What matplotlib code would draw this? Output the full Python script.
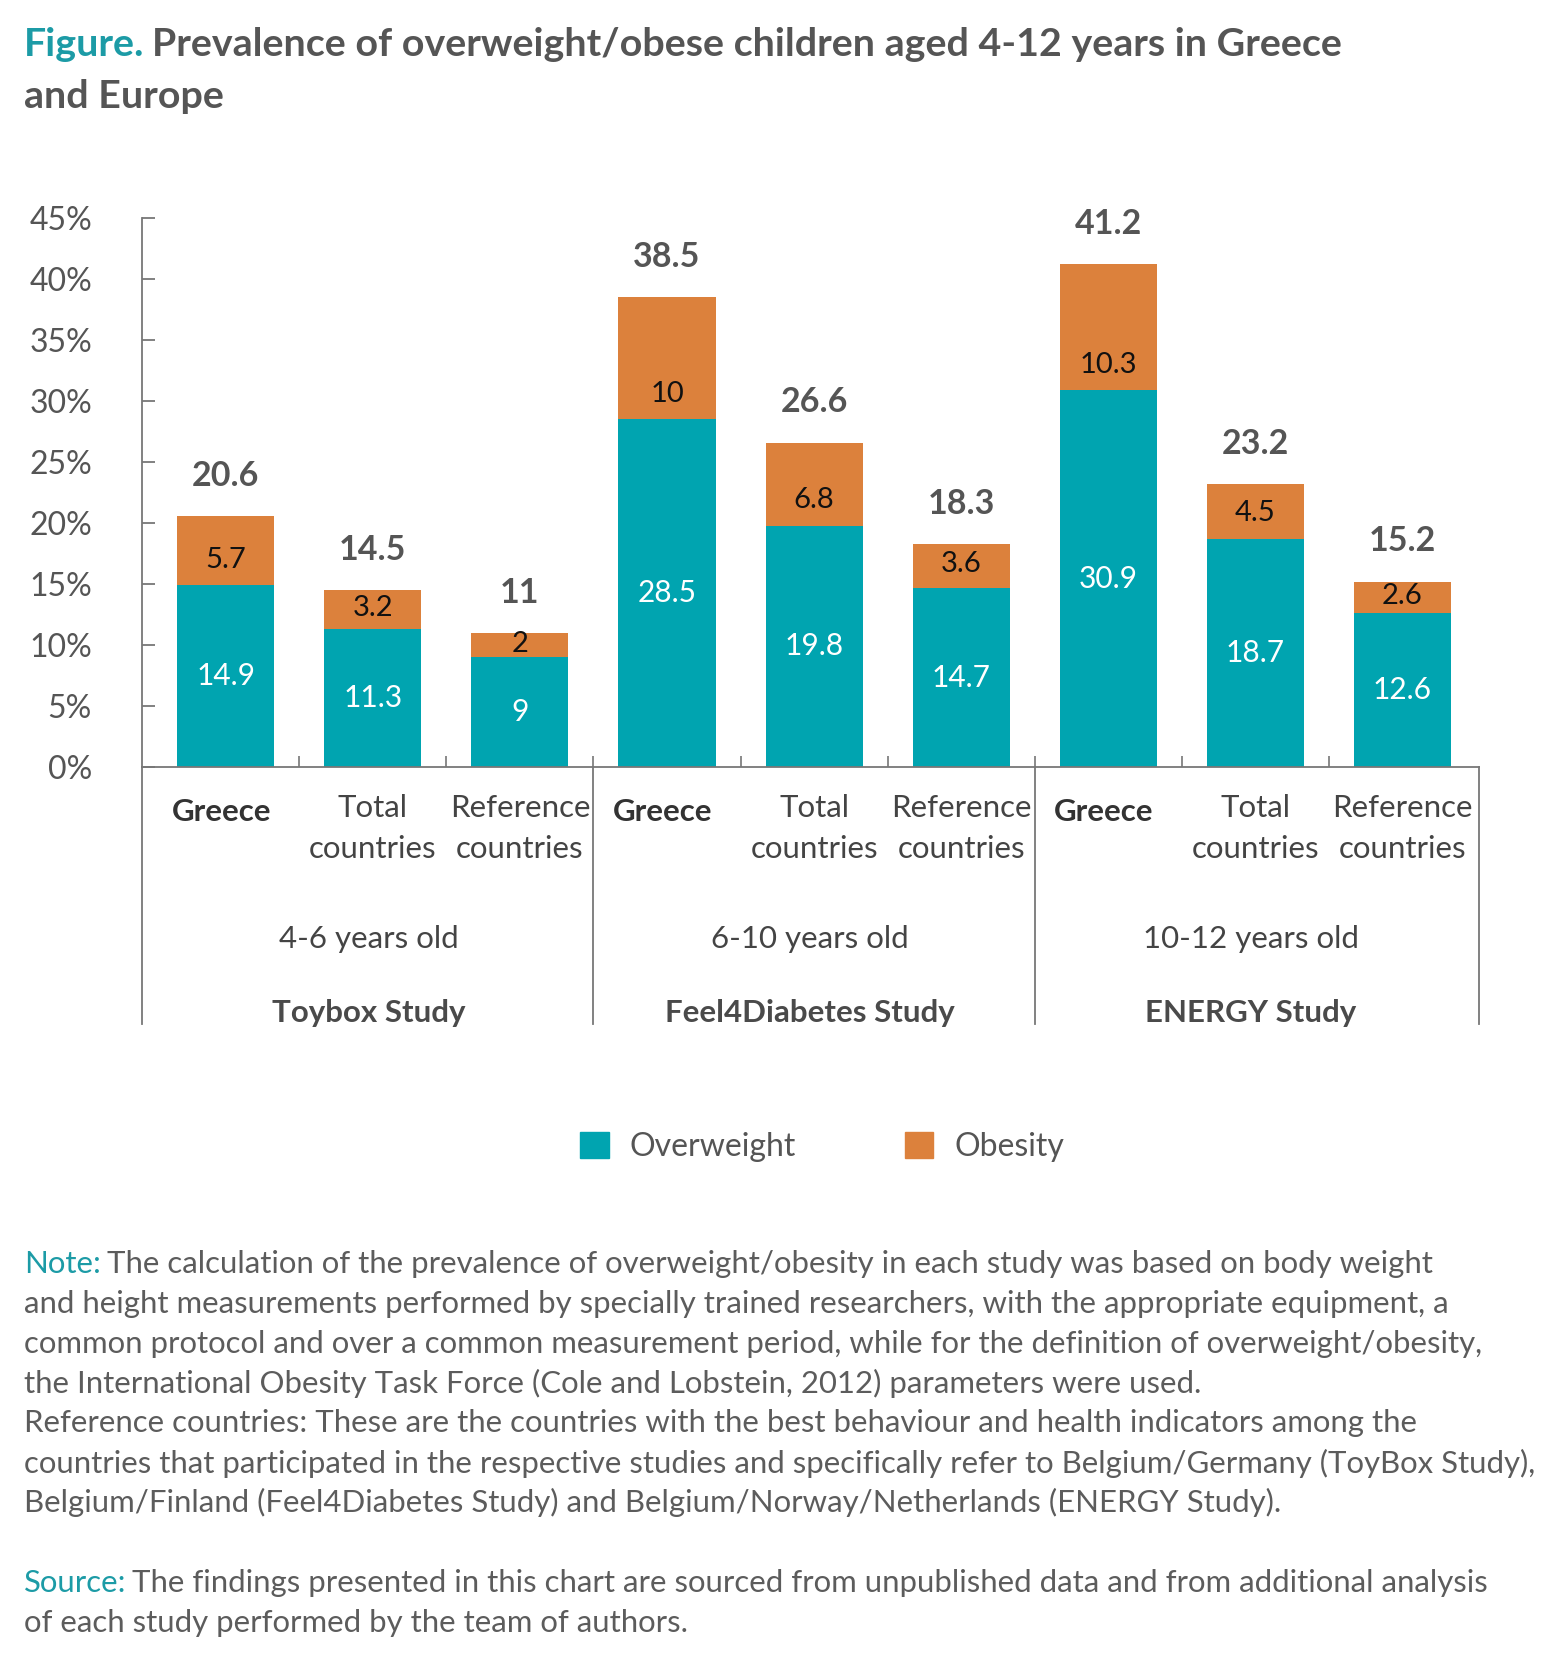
import matplotlib

matplotlib.use("Agg")
import matplotlib.pyplot as plt
import matplotlib.transforms as mtransforms
from matplotlib.patches import Patch

plt.rcParams["font.family"] = ["Lato", "DejaVu Sans"]

# data
categories = ["Greece", "Total\ncountries", "Reference\ncountries"] * 3
overweight = [14.9, 11.3, 9, 28.5, 19.8, 14.7, 30.9, 18.7, 12.6]
obesity = [5.7, 3.2, 2, 10, 6.8, 3.6, 10.3, 4.5, 2.6]
totals = [20.6, 14.5, 11, 38.5, 26.6, 18.3, 41.2, 23.2, 15.2]
age_groups = ["4-6 years old", "6-10 years old", "10-12 years old"]
studies = ["Toybox Study", "Feel4Diabetes Study", "ENERGY Study"]
y_ticks = [0, 5, 10, 15, 20, 25, 30, 35, 40, 45]

TEAL = "#00A4B0"
ORANGE = "#DC813C"
GREY = "#555555"
TEXT = "#5c5c5c"

fig = plt.figure(figsize=(15.6, 16.66), dpi=100)
ax = fig.add_axes([0.091, 0.5395, 0.857, 0.3296])

x = list(range(len(categories)))
ax.bar(x, overweight, width=0.66, color=TEAL, label="Overweight")
ax.bar(x, obesity, width=0.66, bottom=overweight, color=ORANGE, label="Obesity")

for i in x:
    ax.text(i, overweight[i] / 2, f"{overweight[i]:g}", ha="center", va="center",
            color="white", fontsize=21.5)
    # obesity labels sit just above the teal segment, not in the middle
    ax.text(i, overweight[i] + min(2.1, obesity[i] * 0.55), f"{obesity[i]:g}",
            ha="center", va="center", color="#111111", fontsize=21)
    ax.annotate(f"{totals[i]:g}", (i, overweight[i] + obesity[i]), xytext=(0, 29),
                textcoords="offset points", ha="center", va="center",
                color=GREY, fontsize=24.5, fontweight="bold")

ax.set_xlim(-0.57, 8.52)
ax.set_ylim(0, 45)
ax.set_yticks(y_ticks)
ax.set_yticklabels([f"{t}%" for t in y_ticks])
ax.tick_params(axis="y", direction="in", length=9, width=1.3, color="#777777",
               labelsize=23, labelcolor=GREY, pad=36)
ax.set_xticks([b + 0.5 for b in range(8)])
ax.set_xticklabels([])
ax.tick_params(axis="x", direction="in", length=8, width=1.2, color="#777777")
for side in ("top", "right"):
    ax.spines[side].set_visible(False)
for side in ("left", "bottom"):
    ax.spines[side].set_color("#777777")
    ax.spines[side].set_linewidth(1.3)

trans = mtransforms.blended_transform_factory(ax.transData, ax.transAxes)
low = -0.467
for xb in (-0.57, 2.5, 5.5, 8.52):
    ax.plot([xb, xb], [0, low], transform=trans, color="#777777", lw=1.3, clip_on=False)

for i, label in enumerate(categories):
    if label == "Greece":
        ax.text(i - 0.03, -0.082, label, transform=trans, ha="center", va="center",
                fontsize=22.5, fontweight="bold", color="#333333")
    else:
        ax.text(i, -0.112, label, transform=trans, ha="center", va="center",
                fontsize=22.5, color="#444444", linespacing=1.55)

for g in range(3):
    ax.text(3 * g + 0.97, -0.313, age_groups[g], transform=trans, ha="center", va="center",
            fontsize=22.5, color="#444444")
    ax.text(3 * g + 0.97, -0.447, studies[g], transform=trans, ha="center", va="center",
            fontsize=22.5, fontweight="bold", color="#4a4a4a")

handles = [Patch(color=TEAL), Patch(color=ORANGE)]
fig.legend(handles, ["Overweight", "Obesity"], loc="center", bbox_to_anchor=(0.527, 0.3115),
           ncol=2, frameon=False, fontsize=23, labelcolor=GREY, handlelength=0.9,
           handleheight=0.9, handletextpad=0.65, columnspacing=3.4)

# title
H = 1666
t1 = fig.text(24 / 1560, 1 - 45 / H, "Figure.", color="#1C9BA6", fontsize=28.4,
              fontweight="bold", va="center")
fig.canvas.draw()
renderer = fig.canvas.get_renderer()
bb = t1.get_window_extent(renderer)
fig.text((bb.x1 + 8) / 1560, 1 - 45 / H,
         "Prevalence of overweight/obese children aged 4-12 years in Greece",
         color=GREY, fontsize=28.4, fontweight="bold", va="center")
fig.text(24 / 1560, 1 - 96 / H, "and Europe", color=GREY, fontsize=28.4,
         fontweight="bold", va="center")

note_lines = [
    "The calculation of the prevalence of overweight/obesity in each study was based on body weight",
    "and height measurements performed by specially trained researchers, with the appropriate equipment, a",
    "common protocol and over a common measurement period, while for the definition of overweight/obesity,",
    "the International Obesity Task Force (Cole and Lobstein, 2012) parameters were used.",
    "Reference countries: These are the countries with the best behaviour and health indicators among the",
    "countries that participated in the respective studies and specifically refer to Belgium/Germany (ToyBox Study),",
    "Belgium/Finland (Feel4Diabetes Study) and Belgium/Norway/Netherlands (ENERGY Study).",
]
source_lines = [
    "The findings presented in this chart are sourced from unpublished data and from additional analysis",
    "of each study performed by the team of authors.",
]


def paragraph(prefix, lines, y0):
    y = y0
    for k, line in enumerate(lines):
        xpos = 24 / 1560
        if k == 0:
            p = fig.text(xpos, 1 - y / H, prefix, color="#1C9BA6", fontsize=22.4,
                         va="center")
            b = p.get_window_extent(renderer)
            xpos = (b.x1 + 6) / 1560
        fig.text(xpos, 1 - y / H, line, color=TEXT, fontsize=22.4, va="center")
        y += 39.8


paragraph("Note:", note_lines, 1264)
paragraph("Source:", source_lines, 1583)

fig.savefig("out.png", dpi=100)
